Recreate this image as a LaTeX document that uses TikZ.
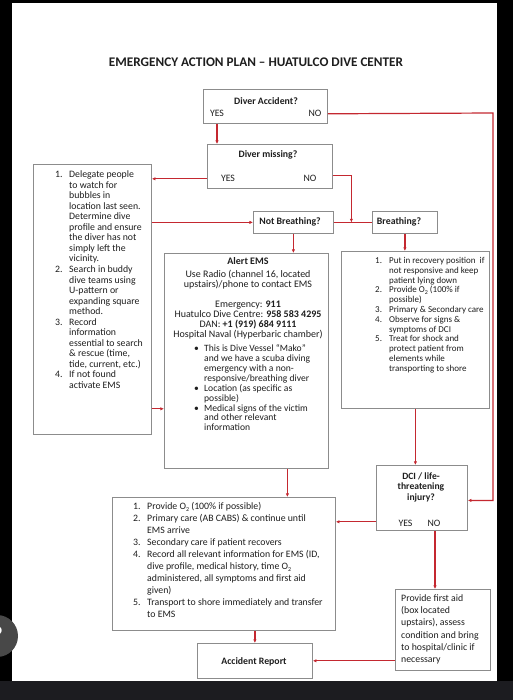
\documentclass[tikz,border=0pt]{standalone}
\usepackage{fontspec}
\setmainfont{Carlito}
\usetikzlibrary{arrows.meta,calc}
\definecolor{redline}{RGB}{196,40,48}
\definecolor{boxgray}{RGB}{140,140,140}
\definecolor{txt}{RGB}{30,30,30}
\definecolor{darkstrip}{RGB}{28,28,32}
\definecolor{btngray}{RGB}{72,72,72}
\newcommand{\nb}[1]{\makebox[14pt][l]{#1}}
\newcommand{\ind}{\hspace*{14pt}}
\newcommand{\bl}{\makebox[10pt][l]{\textbullet}}
\newcommand{\indb}{\hspace*{10pt}}
\newcommand{\Otwo}{O\raisebox{-0.3ex}{\fontsize{6}{6}\selectfont 2}}
\begin{document}
\begin{tikzpicture}[x=1pt,y=-1pt,
  box/.style={draw=boxgray,line width=0.8pt,inner sep=0pt,anchor=north west,fill=white},
  arr/.style={draw=redline,color=redline,line width=1.2pt,-{Latex[length=3.6pt,width=3.4pt]}},
  lin/.style={draw=redline,line width=1.2pt},
  tx/.style={inner sep=0pt,text=txt,font=\fontsize{9.8}{10.5}\selectfont},
  bt/.style={inner sep=0pt,text=txt,font=\bfseries\fontsize{9.8}{10.5}\selectfont},
  lst/.style={inner sep=0pt,text=txt,align=left,anchor=north west}]
\useasboundingbox (0,0) rectangle (513,700);
\clip (0,0) rectangle (513,700);
% screen background
\fill[black] (0,0) rectangle (513,700);
\fill[white] (12,3) rectangle (497,681);
\fill[darkstrip] (0,681) rectangle (513,700);
\fill[btngray] (-3,636) circle (21pt);
\node[inner sep=0pt,text=white,font=\bfseries\fontsize{26}{26}\selectfont] (help) at (-3,636) {?};

% title
\node[inner sep=0pt,text=txt,font=\bfseries\fontsize{13.2}{15}\selectfont] (title) at (256,62) {EMERGENCY ACTION PLAN -- HUATULCO DIVE CENTER};

% boxes
\node[box,minimum width=124pt,minimum height=34pt] (DA) at (203,89) {};
\node[box,minimum width=125pt,minimum height=44pt] (DM) at (207,144) {};
\node[box,minimum width=118pt,minimum height=270pt] (L) at (33,164) {};
\node[box,minimum width=80pt,minimum height=22pt] (NB) at (253,211) {};
\node[box,minimum width=65pt,minimum height=22pt] (BR) at (372,211) {};
\node[box,minimum width=164pt,minimum height=215pt] (AE) at (164,253) {};
\node[box,minimum width=148pt,minimum height=157pt] (RB) at (341,251) {};
\node[box,minimum width=91pt,minimum height=65pt] (DCI) at (376,465) {};
\node[box,minimum width=223pt,minimum height=133pt] (BB) at (112,497) {};
\node[box,minimum width=95pt,minimum height=81pt] (FA) at (395,589) {};
\node[box,minimum width=115pt,minimum height=35pt] (AR) at (197,643) {};

% box texts
\node[bt] (daT) at (266,101) {Diver Accident?};
\node[tx] (daY) at (217,113) {YES};
\node[tx] (daN) at (315,113) {NO};
\node[bt] (dmT) at (268,155) {Diver missing?};
\node[tx] (dmY) at (228,178) {YES};
\node[tx] (dmN) at (310,178) {NO};
\node[bt] (nbT) at (290,222) {Not Breathing?};
\node[bt] (brT) at (399,222) {Breathing?};

\node[lst,font=\fontsize{9.8}{10.55}\selectfont] (lT) at (55,170.5) {%
\nb{1.}Delegate people\\
\ind to watch for\\
\ind bubbles in\\
\ind location last seen.\\
\ind Determine dive\\
\ind profile and ensure\\
\ind the diver has not\\
\ind simply left the\\
\ind vicinity.\\
\nb{2.}Search in buddy\\
\ind dive teams using\\
\ind U-pattern or\\
\ind expanding square\\
\ind method.\\
\nb{3.}Record\\
\ind information\\
\ind essential to search\\
\ind \& rescue (time,\\
\ind tide, current, etc.)\\
\nb{4.}If not found\\
\ind activate EMS};

\node[inner sep=0pt,text=txt,align=center,anchor=north,font=\fontsize{10}{10.1}\selectfont] (aeT) at (248,257) {%
\textbf{Alert EMS}\\[3pt]
Use Radio (channel 16, located\\
upstairs)/phone to contact EMS\\[9.5pt]
Emergency: \textbf{911}\\
Huatulco Dive Centre: \textbf{958 583 4295}\\
DAN: \textbf{+1 (919) 684 9111}\\
Hospital Naval (Hyperbaric chamber)};

\node[lst,font=\fontsize{9.6}{9.9}\selectfont] (aeB) at (194,344.5) {%
\bl This is Dive Vessel “Mako”\\
\indb and we have a scuba diving\\
\indb emergency with a non-\\
\indb responsive/breathing diver\\
\bl Location (as specific as\\
\indb possible)\\
\bl Medical signs of the victim\\
\indb and other relevant\\
\indb information};

\node[lst,font=\fontsize{9}{9.8}\selectfont] (rbT) at (375,257) {%
\nb{1.}Put in recovery position\ \ if\\
\ind not responsive and keep\\
\ind patient lying down\\
\nb{2.}Provide \Otwo\ (100\% if\\
\ind possible)\\
\nb{3.}Primary \& Secondary care\\
\nb{4.}Observe for signs \&\\
\ind symptoms of DCI\\
\nb{5.}Treat for shock and\\
\ind protect patient from\\
\ind elements while\\
\ind transporting to shore};

\node[inner sep=0pt,text=txt,align=center,anchor=north,font=\bfseries\fontsize{9.6}{10.5}\selectfont] (dciT) at (421,472.5) {DCI / life-\\threatening\\injury?};
\node[tx] (dciY) at (405.5,523) {YES};
\node[tx] (dciN) at (434,523) {NO};

\node[lst,font=\fontsize{9.8}{12}\selectfont] (bbT) at (133,502.5) {%
\nb{1.}Provide \Otwo\ (100\% if possible)\\
\nb{2.}Primary care (AB CABS) \& continue until\\
\ind EMS arrive\\
\nb{3.}Secondary care if patient recovers\\
\nb{4.}Record all relevant information for EMS (ID,\\
\ind dive profile, medical history, time \Otwo\\
\ind administered, all symptoms and first aid\\
\ind given)\\
\nb{5.}Transport to shore immediately and transfer\\
\ind to EMS};

\node[lst,font=\fontsize{9.8}{12.2}\selectfont] (faT) at (401,594.5) {%
Provide first aid\\
(box located\\
upstairs), assess\\
condition and bring\\
to hospital/clinic if\\
necessary};

\node[bt] (arT) at (254,662) {Accident Report};

% connectors
\draw[arr] ([xshift=14pt]DA.south west) -- ([xshift=10pt]DM.north west);
\coordinate (daNo) at ([yshift=10pt]DA.south east);
\coordinate (rr) at (493,113);
\draw[arr] (daNo) -- (rr) |- ([yshift=-2.5pt]DCI.east);
\coordinate (dmYes) at ([yshift=10pt]DM.south west);
\draw[arr] (dmYes) -- (dmYes -| L.east);
\coordinate (dmNo) at ([yshift=13pt]DM.south east);
\coordinate (jn) at ($(NB.east)!0.46!(BR.west)$);
\draw[lin] (NB.east) -- (BR.west);
\draw[arr] (dmNo) -| (jn);
\coordinate (lnb) at (L.east |- NB.west);
\draw[arr] (lnb) -- (NB.west);
\coordinate (lae) at ([yshift=26pt]L.south east);
\draw[arr] (lae) -- (lae -| AE.west);
\draw[arr] (NB.south) -- (NB.south |- AE.north);
\draw[arr] (BR.south) -- (BR.south |- RB.north);
\draw[arr] (RB.south) -- (RB.south |- DCI.north);
\coordinate (aes) at ([xshift=41pt]AE.south);
\draw[arr] (aes) -- (aes |- BB.north);
\coordinate (dciYes) at ([yshift=9pt]DCI.south west);
\draw[arr] (dciYes) -- (dciYes -| BB.east);
\coordinate (dciNo) at ([xshift=59pt]DCI.south west);
\draw[arr] (dciNo) -- (dciNo |- FA.north);
\coordinate (faL) at ([yshift=10pt]FA.south west);
\draw[arr] (faL) -- (faL -| AR.east);
\coordinate (bbS) at (AR.north |- BB.south);
\draw[arr] (bbS) -- (AR.north);
\end{tikzpicture}
\end{document}
